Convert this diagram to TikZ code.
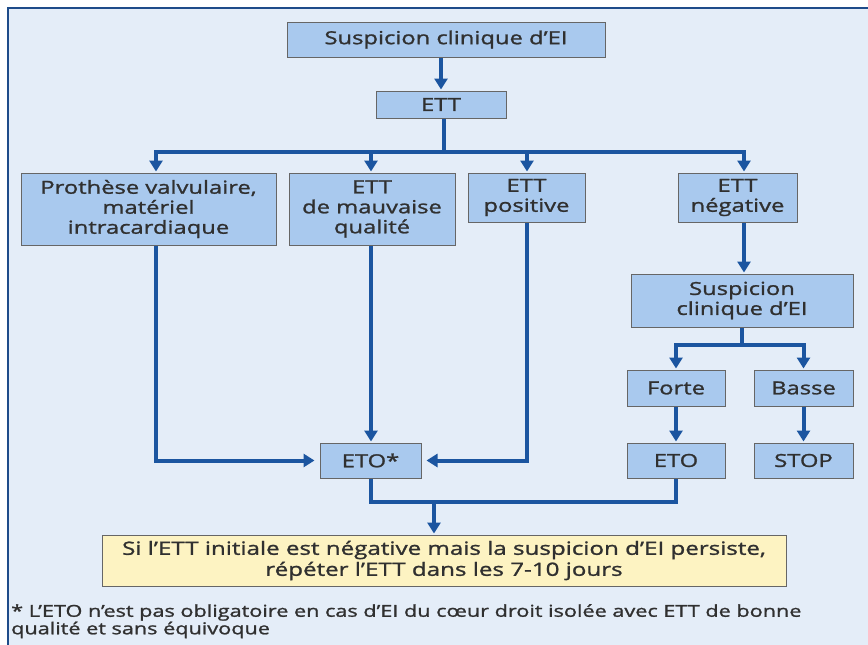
\documentclass[tikz,border=0pt]{standalone}
\usepackage{fontspec}
\setmainfont{Open Sans}[FakeStretch=1.32, FakeBold=1.3]
\usetikzlibrary{arrows.meta}
\definecolor{bg}{HTML}{E4EDF8}
\definecolor{boxfill}{HTML}{A9C9EE}
\definecolor{arr}{HTML}{1B55A0}
\definecolor{yel}{HTML}{FDF3C2}
\definecolor{framec}{HTML}{1E4C8A}
\definecolor{txt}{HTML}{303030}
\begin{document}
\begin{tikzpicture}[x=1pt,y=-1pt,
  box/.style={draw=black!60, line width=1pt, fill=boxfill, text=txt, align=center, inner sep=0pt,
    font=\fontsize{18}{20}\selectfont},
  flow/.style={draw=arr, line width=4pt, -{Triangle[width=13pt,length=11pt]}, shorten >=1pt},
  link/.style={draw=arr, line width=4pt},
]
\useasboundingbox (0,0) rectangle (868,645);
\fill[white] (0,0) rectangle (868,645);
\fill[bg] (8,8) rectangle (868,645);
\draw[framec, line width=2pt] (8,645) -- (8,8) -- (868,8);

\node[box, minimum width=318pt, minimum height=35pt] (s1) at (446,39.5) {Suspicion clinique d'EI};
\node[box, minimum width=130pt, minimum height=27pt] (ett) at (441,104.5) {ETT};
\node[box, minimum width=255pt, minimum height=72pt] (pro) at (148.5,209) {Prothèse valvulaire,\\matériel\\intracardiaque};
\node[box, minimum width=166pt, minimum height=72pt] (mau) at (372,209) {ETT\\de mauvaise\\qualité};
\node[box, minimum width=117pt, minimum height=49pt] (pos) at (526.5,197.5) {ETT\\positive};
\node[box, minimum width=119pt, minimum height=49pt] (neg) at (737.5,197.5) {ETT\\négative};
\node[box, minimum width=222pt, minimum height=53pt] (s2) at (742,300.5) {Suspicion\\clinique d'EI};
\node[box, minimum width=98pt, minimum height=36pt] (forte) at (676,388) {Forte};
\node[box, minimum width=99pt, minimum height=36pt] (basse) at (803.5,388) {Basse};
\node[box, minimum width=98pt, minimum height=35pt] (eto) at (676,460.5) {ETO};
\node[box, minimum width=99pt, minimum height=35pt] (stop) at (803.5,460.5) {STOP};
\node[box, minimum width=101pt, minimum height=35pt] (etos) at (370.5,460.5) {ETO*};
\node[box, fill=yel, minimum width=684pt, minimum height=51pt, font=\fontsize{18.3}{21}\selectfont] (yl) at (444,560.5)
  {Si l'ETT initiale est négative mais la suspicion d'EI persiste,\\répéter l'ETT dans les 7-10 jours};
\node[anchor=north west, align=left, text=txt, inner sep=0pt, font=\fontsize{16.4}{16.5}\selectfont] (fn) at (11,604)
  {* L'ETO n'est pas obligatoire en cas d'EI du cœur droit isolée avec ETT de bonne\\qualité et sans équivoque};

\coordinate (j1) at (444,152);
\coordinate (c1) at (156,0);
\coordinate (c2) at (371,0);
\coordinate (c3) at (527,0);
\coordinate (c4) at (744,0);
\coordinate (j2) at (742,345);
\coordinate (jb) at (434,502);

\draw[flow] (s1.south -| ett.north) -- (ett.north);
\draw[link] (ett.south -| j1) -- (j1);
\draw[flow] (j1) -| (c1 |- pro.north);
\draw[flow] (j1) -| (c2 |- mau.north);
\draw[flow] (j1) -| (c3 |- pos.north);
\draw[flow] (j1) -| (c4 |- neg.north);

\draw[flow, shorten >=5pt] (c1 |- pro.south) |- (etos.west);
\draw[flow] (c2 |- mau.south) -- (c2 |- etos.north);
\draw[flow, shorten >=5pt] (c3 |- pos.south) |- (etos.east);

\draw[flow] (c4 |- neg.south) -- (c4 |- s2.north);
\draw[link] (s2.south) -- (j2);
\draw[flow] (j2) -| (forte.north);
\draw[flow] (j2) -| (basse.north);
\draw[flow] (forte.south) -- (eto.north);
\draw[flow] (basse.south) -- (stop.north);

\draw[link] (etos.south) |- (jb -| eto.south) -- (eto.south);
\draw[flow] (jb) -- (jb |- yl.north);
\end{tikzpicture}
\end{document}
